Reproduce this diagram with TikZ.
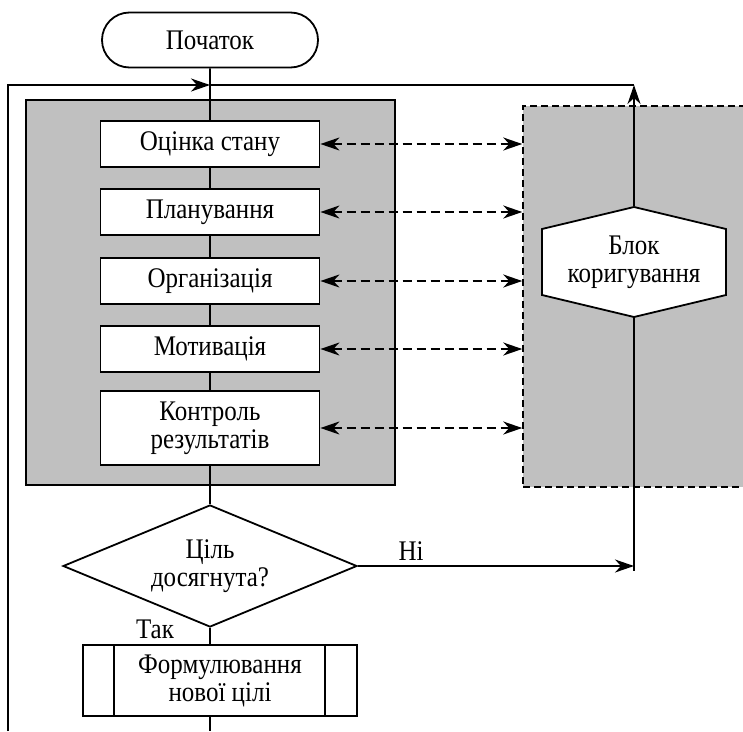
\documentclass[tikz,border=0pt]{standalone}
\usepackage{fontspec}
\setmainfont{Liberation Serif}[FakeStretch=0.88]
\usetikzlibrary{shapes.geometric,shapes.misc,arrows.meta,calc}
\definecolor{boxgray}{HTML}{C0C0C0}
\begin{document}
\begin{tikzpicture}[x=1pt,y=-1pt,line width=1.8pt,
  every node/.style={font=\fontsize{28.4}{28}\selectfont,align=center,inner sep=0pt},
  stepbox/.style={draw,fill=white,minimum width=219pt,minimum height=46pt},
  arr/.style={-{Stealth[length=19pt,width=13pt,inset=6pt]}},
  darr/.style={{Stealth[length=19pt,width=13pt,inset=6pt]}-{Stealth[length=19pt,width=13pt,inset=6pt]},dash pattern=on 9pt off 5pt},
  container/.style={draw,fill=boxgray,line width=1.5pt},
]
\useasboundingbox (0,0) rectangle (743,731);
\clip (0,0) rectangle (743,731);

% containers
\node[container,minimum width=369pt,minimum height=385pt] (main) at (210.5,292.5) {};
\node[container,dash pattern=on 7pt off 4pt,minimum width=240pt,minimum height=381pt] (corr) at (643,296.5) {};

% hexagon shape
\draw[fill=white] (542,229) -- (634,207) -- (726,229) -- (726,295) -- (634,317) -- (542,295) -- cycle;
\node[minimum width=184pt,minimum height=110pt] (hex) at (634,262) {Блок\\коригування};

% nodes
\node[draw,fill=white,rounded rectangle,minimum width=216pt,minimum height=55pt] (start) at (210,40) {Початок};
\node[stepbox] (b1) at (210,144) {Оцінка стану};
\node[stepbox] (b2) at (210,212) {Планування};
\node[stepbox] (b3) at (210,281) {Організація};
\node[stepbox] (b4) at (210,349) {Мотивація};
\node[stepbox,minimum height=74pt] (b5) at (210,428) {Контроль\\результатів};
\node[draw,fill=white,diamond,aspect=2.4,minimum width=294pt,minimum height=122pt] (d) at (210,566) {Ціль\\досягнута?};
\node[draw,fill=white,minimum width=274pt,minimum height=71pt] (f) at (220,680.5) {Формулювання\\нової цілі};
\draw ($(f.north west)+(32,0)$) -- ($(f.south west)+(32,0)$);
\draw ($(f.north east)+(-33,0)$) -- ($(f.south east)+(-33,0)$);

% labels
\node[anchor=base] (ni) at (411,560) {Ні};
\node[anchor=base] (tak) at (155,638) {Так};

% coordinates
\coordinate (lb) at (8,731);
\coordinate (tl) at (8,85);
\coordinate (jn) at (210,85);
\coordinate (tr) at (634,85);
\coordinate (nie) at (634,566);
\coordinate (nib) at (634,571);
\coordinate (bot) at (210,731);

% main flow
\draw (start) -- (b1);
\draw (b1) -- (b2);
\draw (b2) -- (b3);
\draw (b3) -- (b4);
\draw (b4) -- (b5);
\draw (b5) -- (d);
\draw (d.south) -- (d.south |- f.north);
\draw (bot |- f.south) -- (bot);

% loop
\draw[arr] (lb) -- (tl) -- (jn);
\draw (jn) -- (tr);
\draw[arr] (hex.north) -- (tr);
\draw[arr] (d.east) -- (nie);
\draw (hex.south) -- (nib);

% dashed links
\foreach \b in {b1,b2,b3,b4,b5}{
  \draw[darr] (\b.east) -- (\b.east -| corr.west);
}
\end{tikzpicture}
\end{document}
